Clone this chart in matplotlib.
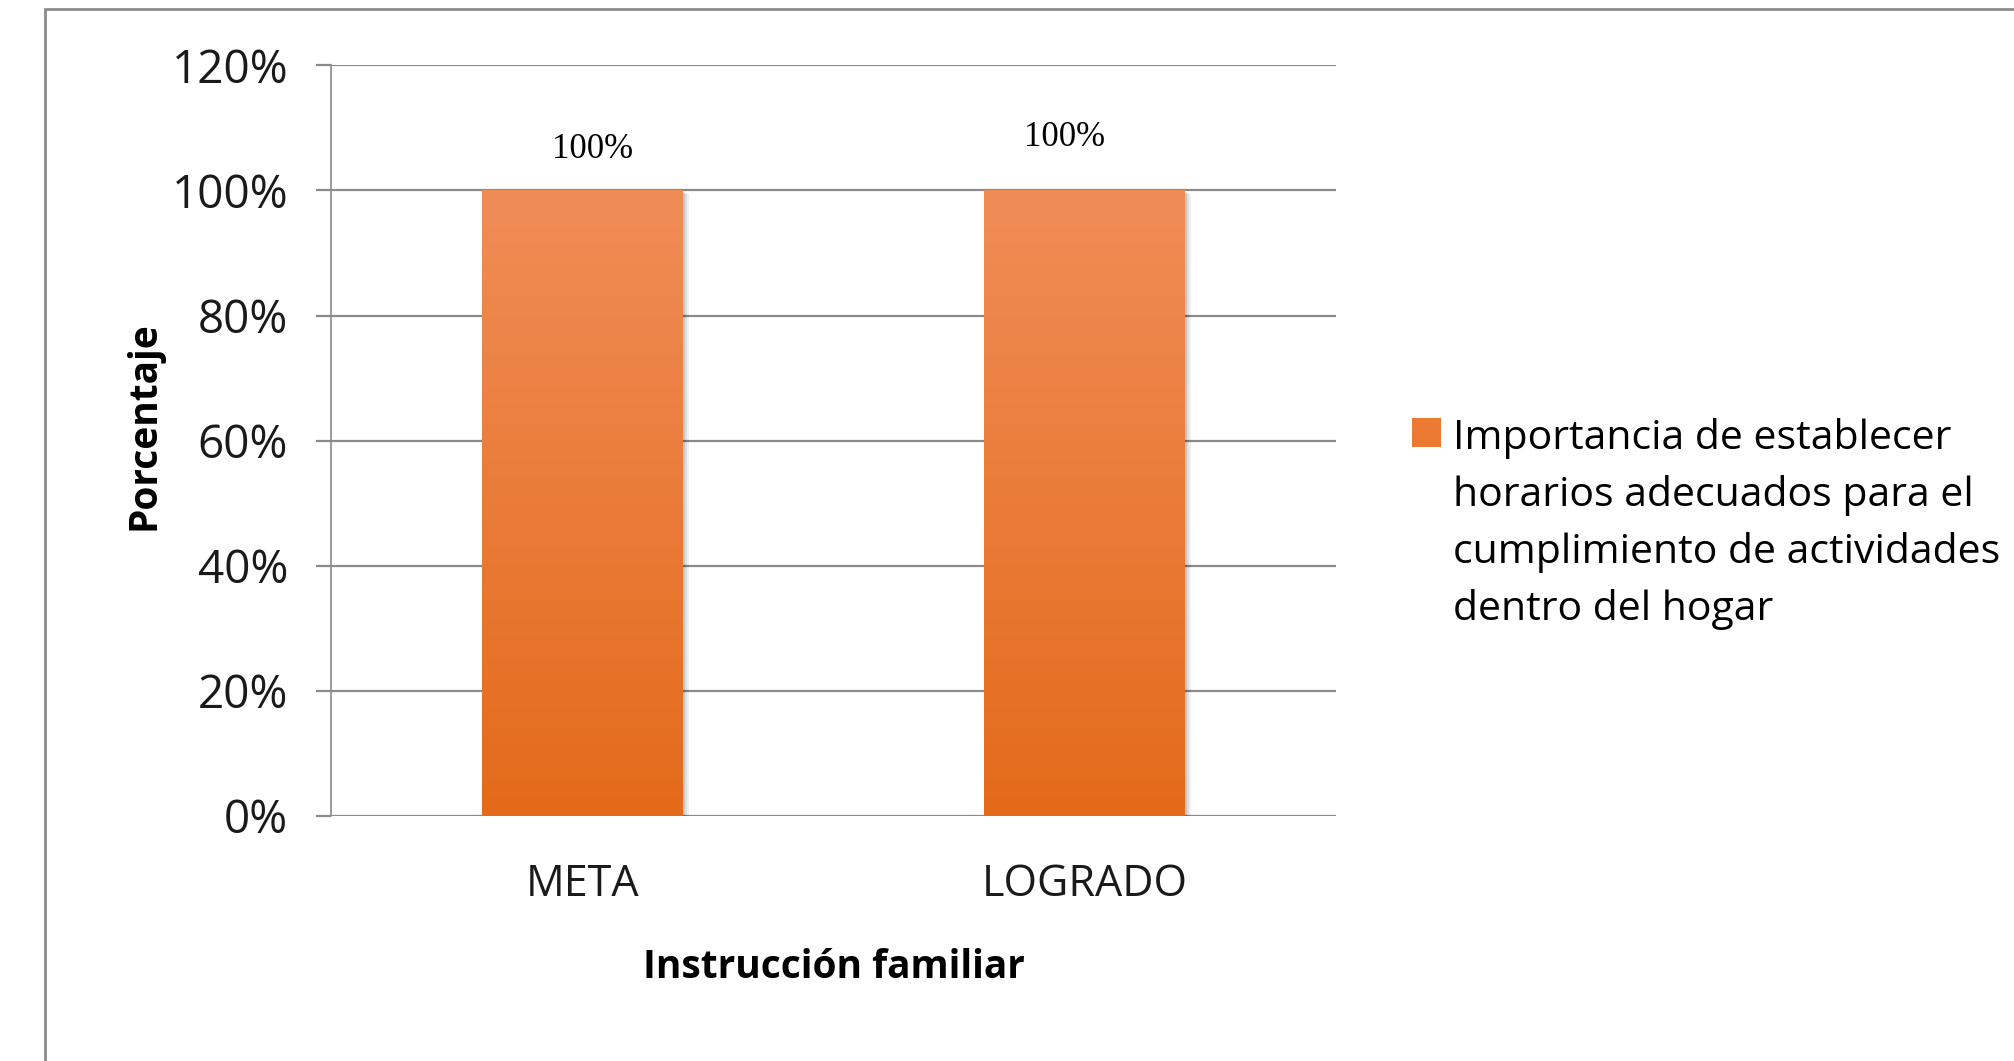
import numpy as np
import matplotlib
matplotlib.use("Agg")
import matplotlib.pyplot as plt
from matplotlib import font_manager
from matplotlib.colors import LinearSegmentedColormap
from matplotlib.patches import Rectangle
import matplotlib.transforms as mtransforms

# Data
categories = ["META", "LOGRADO"]
values = [1.0, 1.0]
value_labels = ["100%", "100%"]
series_name = ("Importancia de establecer\nhorarios adecuados para el\n"
               "cumplimiento de actividades\ndentro del hogar")
y_ticks = [0, 0.2, 0.4, 0.6, 0.8, 1.0, 1.2]

# pick a narrow sans font if it exists (Calibri look-alike)
names = {f.name for f in font_manager.fontManager.ttflist}
sans = "Liberation Sans Narrow" if "Liberation Sans Narrow" in names else "Open Sans"
serif = "Liberation Serif"

fig = plt.figure(figsize=(20.14, 10.61), dpi=100)
fig.patch.set_facecolor("white")

# outer chart border (right and bottom run off the picture)
fig.patches.append(Rectangle((45 / 2014, -0.1), 1.2, 1.1 - 9 / 1061,
                             transform=fig.transFigure, fill=False,
                             edgecolor="#8c8c8c", linewidth=2, zorder=0))

ax = fig.add_axes([0.1644, 0.2313, 0.499, 0.707])
x = np.arange(len(categories))
bars = ax.bar(x, values, width=0.4, color="#EC7A33", zorder=3)

# gradient fill + soft shadow for each bar
cmap = LinearSegmentedColormap.from_list("org", ["#E46A1A", "#F08D57"])
grad = np.linspace(0, 1, 256).reshape(-1, 1)
for b in bars:
    x0, w, h = b.get_x(), b.get_width(), b.get_height()
    for k, a in enumerate([0.10, 0.08, 0.06]):
        tr = mtransforms.offset_copy(ax.transData, fig=fig, x=2 + 2 * k, y=-2 - k, units="dots")
        ax.add_patch(Rectangle((x0, 0), w, h, transform=tr, facecolor="black",
                               alpha=a, edgecolor="none", zorder=2))
    im = ax.imshow(grad, extent=(x0, x0 + w, 0, h), origin="lower", aspect="auto",
                   cmap=cmap, zorder=4)
    im.set_clip_path(b)

# data labels (offsets differ a bit in the original)
label_dy = [0.065, 0.085]
label_dx = [0.02, -0.04]
for i, b in enumerate(bars):
    ax.text(b.get_x() + b.get_width() / 2 + label_dx[i], b.get_height() + label_dy[i],
            value_labels[i], ha="center", va="center", fontsize=25,
            family=serif, color="black", zorder=5)

ax.set_xlim(-0.5, len(categories) - 0.5)
ax.set_ylim(0, 1.2)
ax.set_yticks(y_ticks)
ax.set_yticklabels([f"{int(round(v * 100))}%" for v in y_ticks])
ax.set_xticks(x)
ax.set_xticklabels(categories)
ax.yaxis.grid(True, color="#8a8a8a", linewidth=1.6, zorder=1)
ax.set_axisbelow(True)

for s in ["top", "right", "bottom"]:
    ax.spines[s].set_visible(False)
ax.spines["left"].set_color("#8a8a8a")
ax.spines["left"].set_linewidth(1.2)

ax.tick_params(axis="y", length=11, width=1.6, color="#8a8a8a", pad=20,
               labelsize=33, labelcolor="#1a1a1a")
ax.tick_params(axis="x", length=0, pad=34, labelsize=31, labelcolor="#1a1a1a")
for t in ax.get_xticklabels() + ax.get_yticklabels():
    t.set_family(sans)

ax.set_xlabel("Instrucción familiar", fontsize=28, fontweight="bold", family=sans)
ax.set_ylabel("Porcentaje", fontsize=28, fontweight="bold", family=sans)
ax.xaxis.set_label_coords(0.5, -0.202)
ax.xaxis.label.set_va("center")
ax.yaxis.set_label_coords(-0.186, 0.52)
ax.yaxis.label.set_va("center")

leg = ax.legend([bars[0]], [series_name], loc="upper left",
                bbox_to_anchor=(1412 / 2014, 1 - 418 / 1061),
                bbox_transform=fig.transFigure, frameon=False,
                prop={"family": sans, "size": 29.5}, handlelength=0.7,
                handleheight=0.7, handletextpad=0.3, labelspacing=0.5,
                borderpad=0, borderaxespad=0)
leg.get_patches()[0].set_facecolor("#EC7A33")
for t in leg.get_texts():
    t.set_linespacing(1.52)
# put the square next to the first line, as in the original
for col in leg._legend_handle_box.get_children():
    for row in col.get_children():
        row.align = "top"

fig.savefig("out.png", dpi=100, facecolor="white")
